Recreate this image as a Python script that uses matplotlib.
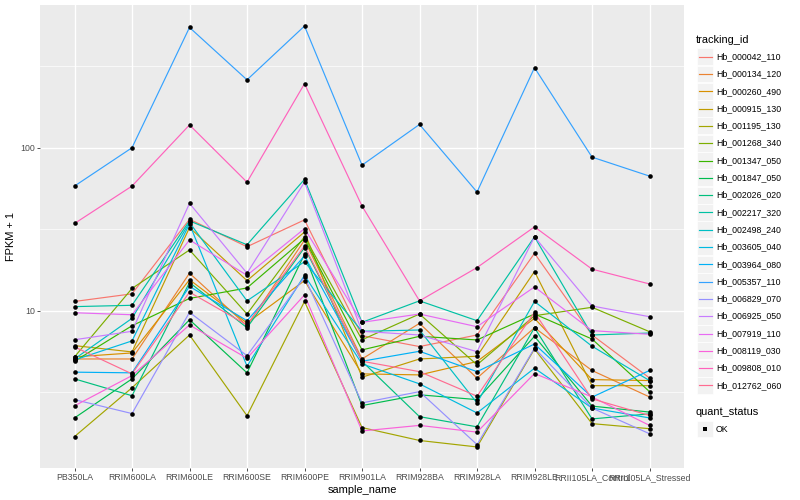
import numpy as np
import matplotlib
matplotlib.use("Agg")
import matplotlib.pyplot as plt
from matplotlib.lines import Line2D
from matplotlib.patches import Rectangle

samples = ["PB350LA", "RRIM600LA", "RRIM600LE", "RRIM600SE", "RRIM600PE",
           "RRIM901LA", "RRIM928BA", "RRIM928LA", "RRIM928LE",
           "RRII105LA_Control", "RRII105LA_Stressed"]

tracking_ids = ["Hb_000042_110", "Hb_000134_120", "Hb_000260_490", "Hb_000915_130",
                "Hb_001195_130", "Hb_001268_340", "Hb_001347_050", "Hb_001847_050",
                "Hb_002026_020", "Hb_002217_320", "Hb_002498_240", "Hb_003605_040",
                "Hb_003964_080", "Hb_005357_110", "Hb_006829_070", "Hb_006925_050",
                "Hb_007919_110", "Hb_008119_030", "Hb_009808_010", "Hb_012762_060"]

hb_000042_110 = [11.4, 12.7, 36.4, 24.7, 36.1, 7.03, 6.03, 7.1, 22.5, 7.1, 3.87]
hb_000134_120 = [5.06, 5.06, 17.0, 8.09, 27.1, 5.06, 8.37, 3.86, 7.87, 4.30, 2.96]
hb_000260_490 = [5.21, 5.51, 15.5, 8.41, 15.3, 4.10, 4.04, 4.88, 8.98, 3.78, 3.73]
hb_000915_130 = [6.11, 5.59, 32.4, 15.3, 30.4, 3.91, 5.06, 5.26, 17.4, 3.47, 3.47]
hb_001195_130 = [1.69, 3.37, 7.10, 2.27, 11.4, 1.92, 1.60, 1.46, 5.83, 2.03, 1.89]
hb_001268_340 = [5.21, 13.7, 23.6, 9.55, 28.5, 6.64, 9.55, 4.66, 9.32, 10.5, 7.44]
hb_001347_050 = [4.90, 8.09, 11.9, 13.8, 27.7, 5.75, 6.97, 6.62, 9.55, 6.71, 3.19]
hb_001847_050 = [2.20, 3.82, 8.81, 4.16, 22.2, 2.62, 3.05, 2.85, 6.97, 2.60, 2.39]
hb_002026_020 = [3.82, 3.01, 14.9, 7.87, 24.4, 4.90, 2.24, 1.94, 7.87, 2.17, 2.33]
hb_002217_320 = [10.6, 10.8, 35.6, 25.4, 64.0, 8.49, 11.5, 8.69, 28.4, 7.10, 7.30]
hb_002498_240 = [5.06, 8.98, 34.8, 11.5, 20.0, 7.48, 7.62, 2.72, 11.4, 6.06, 3.73]
hb_003605_040 = [4.99, 6.53, 34.1, 4.57, 16.5, 4.72, 3.56, 2.36, 4.44, 2.53, 2.20]
hb_003964_080 = [4.20, 4.16, 14.1, 8.69, 21.7, 4.90, 5.64, 4.23, 6.25, 2.95, 4.30]
hb_005357_110 = [58.2, 100.0, 547.0, 261.0, 558.0, 78.2, 139.0, 53.5, 310.0, 87.6, 67.0]
hb_006829_070 = [2.85, 2.34, 9.78, 5.30, 16.1, 2.72, 3.19, 1.51, 5.89, 2.53, 1.76]
hb_006925_050 = [6.64, 7.48, 45.6, 17.0, 61.5, 7.48, 7.10, 5.61, 28.4, 10.7, 9.19]
hb_007919_110 = [9.72, 9.45, 27.2, 16.5, 31.9, 8.49, 9.55, 7.98, 14.0, 7.55, 7.17]
hb_008119_030 = [2.61, 4.00, 8.18, 5.11, 12.5, 1.83, 1.98, 1.80, 4.12, 2.96, 1.98]
hb_009808_010 = [34.3, 58.2, 138.0, 61.5, 247.0, 43.9, 11.5, 18.4, 32.7, 18.0, 14.6]
hb_012762_060 = [6.00, 4.10, 13.0, 8.18, 25.0, 4.90, 4.23, 2.99, 9.78, 2.88, 2.28]

series = [hb_000042_110, hb_000134_120, hb_000260_490, hb_000915_130, hb_001195_130,
          hb_001268_340, hb_001347_050, hb_001847_050, hb_002026_020, hb_002217_320,
          hb_002498_240, hb_003605_040, hb_003964_080, hb_005357_110, hb_006829_070,
          hb_006925_050, hb_007919_110, hb_008119_030, hb_009808_010, hb_012762_060]

colors = ["#F8766D", "#EA8331", "#D89000", "#C09B00", "#A3A500", "#7CAE00", "#39B600",
          "#00BB4E", "#00BF7D", "#00C1A3", "#00BFC4", "#00BAE0", "#00B0F6", "#35A2FF",
          "#9590FF", "#C77CFF", "#E76BF3", "#FA62DB", "#FF62BC", "#FF6C91"]

plt.rcParams['font.family'] = ['Liberation Sans', 'DejaVu Sans']

W, H = 800, 500
fig = plt.figure(figsize=(8, 5), dpi=100)
fig.patch.set_facecolor("white")
L, R, T, B = 40, 684, 5, 468
ax = fig.add_axes([L / W, 1 - B / H, (R - L) / W, (B - T) / H])
ax.set_facecolor("#EBEBEB")
for s in ax.spines.values():
    s.set_visible(False)

x = np.arange(1, len(samples) + 1)
for vals, c in zip(series, colors):
    ax.plot(x, vals, color=c, lw=0.85, zorder=3, solid_capstyle='butt')
for vals in series:
    ax.plot(x, vals, ls='none', marker='o', ms=3.3, mfc='black', mec='black',
            mew=0, zorder=4)

ax.set_yscale('log')
allv = np.concatenate([np.asarray(v) for v in series])
lo, hi = np.log10(allv.min()), np.log10(allv.max())
pad = 0.05 * (hi - lo)
ax.set_ylim(10 ** (lo - pad), 10 ** (hi + pad))
ax.set_xlim(0.4, len(samples) + 0.6)

ax.set_yticks([10, 100])
ax.set_yticklabels(["10", "100"])
ax.set_yticks([10 ** 0.5, 10 ** 1.5, 10 ** 2.5], minor=True)
ax.yaxis.set_minor_formatter(matplotlib.ticker.NullFormatter())
ax.tick_params(axis='y', which='minor', length=0)
ax.set_xticks(x)
ax.set_xticklabels(samples)
ax.tick_params(axis='both', which='major', length=2.2, width=0.6, color='#333333',
               labelsize=6.3, labelcolor='#4D4D4D', pad=1.5)

ax.grid(which='major', color='white', lw=1.0, zorder=0)
ax.grid(which='minor', axis='y', color='white', lw=0.5, zorder=0)
ax.set_axisbelow(True)

ax.set_xlabel("sample_name", fontsize=7.9, color='black', labelpad=2)
ax.set_ylabel("FPKM + 1", fontsize=7.9, color='black', labelpad=3)

# legend (drawn manually in ggplot style)
def fx(px):
    return px / W

def fy(py):
    return 1 - py / H

fig.text(fx(696), fy(40), "tracking_id", fontsize=7.9, va='center', ha='left')
y0, dy = 56.7, 17.3
for i, (name, c) in enumerate(zip(tracking_ids, colors)):
    yc = y0 + dy * i
    fig.patches.append(Rectangle((fx(697), fy(yc + 8.4)), 16 / W, 16.8 / H,
                                 transform=fig.transFigure, facecolor='#F2F2F2',
                                 edgecolor='white', lw=0.5))
    fig.lines.append(Line2D([fx(698.5), fx(711.5)], [fy(yc), fy(yc)],
                            transform=fig.transFigure, color=c, lw=0.85))
    fig.text(fx(716), fy(yc), name, fontsize=6.3, va='center', ha='left')

fig.text(fx(696), fy(412), "quant_status", fontsize=7.9, va='center', ha='left')
yc = 429
fig.patches.append(Rectangle((fx(697), fy(yc + 8.4)), 16 / W, 16.8 / H,
                             transform=fig.transFigure, facecolor='#F2F2F2',
                             edgecolor='white', lw=0.5))
fig.lines.append(Line2D([fx(705)], [fy(yc)], transform=fig.transFigure, ls='none',
                        marker='s', ms=2.8, mfc='black', mec='black', mew=0))
fig.text(fx(716), fy(yc), "OK", fontsize=6.3, va='center', ha='left')

fig.savefig("out.png", dpi=100)
